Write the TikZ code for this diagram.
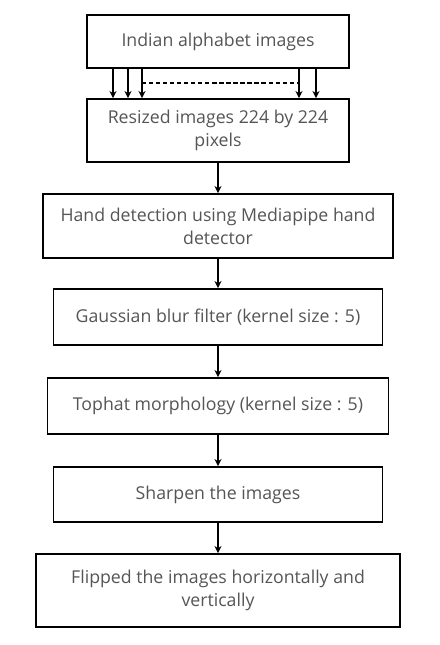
\documentclass[tikz,border=0pt]{standalone}
\usepackage{fontspec}
\setmainfont{Open Sans}
\usepackage{tikz}
\usetikzlibrary{arrows.meta,positioning}
\usepackage{xcolor}
\definecolor{textgray}{RGB}{85, 85, 85}

\begin{document}
\begin{tikzpicture}[
    stepbox/.style={rectangle, draw, line width=1.4pt, minimum height=1.4cm, align=center, text=textgray, font=\fontsize{12.6}{16.5}\selectfont},
    arrow/.style={-{Stealth[length=5pt,width=5pt]}, line width=1.1pt}
]
    \useasboundingbox (0,0) rectangle (11,-16.125);

    % Input images
    \node[stepbox, minimum width=6.55cm, minimum height=1.325cm] (images) at (5.45, -1.0375) {Indian alphabet images};

    % Resize
    \node[stepbox, minimum width=6.55cm, minimum height=1.575cm] (resize) at (5.45, -3.2625) {Resized images 224 by 224\\pixels};

    % Hand detection
    \node[stepbox, minimum width=8.75cm, minimum height=1.6cm] (hand) at (5.45, -5.65) {Hand detection using Mediapipe hand\\detector};

    % Gaussian blur
    \node[stepbox, minimum width=8.225cm] (blur) at (5.45, -7.925) {Gaussian blur filter (kernel size : 5)};

    % Tophat
    \node[stepbox, minimum width=8.525cm] (tophat) at (5.45, -10.15) {Tophat morphology (kernel size : 5)};

    % Sharpen
    \node[stepbox, minimum width=8.225cm, minimum height=1.375cm] (sharpen) at (5.45, -12.3625) {Sharpen the images};

    % Flip
    \node[stepbox, minimum width=9.1cm, minimum height=1.825cm] (flip) at (5.45, -14.7625) {Flipped the images horizontally and\\vertically};

    % Arrows
    \foreach \dx in {-2.625, -2.25, -1.9, 2.025, 2.45}
        \draw[arrow] ([xshift=\dx cm]images.south) -- ([xshift=\dx cm]resize.north);
    \coordinate (dashleft) at (3.55, -2.075);
    \coordinate (dashright) at (7.475, -2.075);
    \draw[line width=1.1pt, dash pattern=on 3pt off 2pt] (dashleft) -- (dashright);

    \draw[arrow] (resize) -- (hand);
    \draw[arrow] (hand) -- (blur);
    \draw[arrow] (blur) -- (tophat);
    \draw[arrow] (tophat) -- (sharpen);
    \draw[arrow] (sharpen) -- (flip);
\end{tikzpicture}
\end{document}
